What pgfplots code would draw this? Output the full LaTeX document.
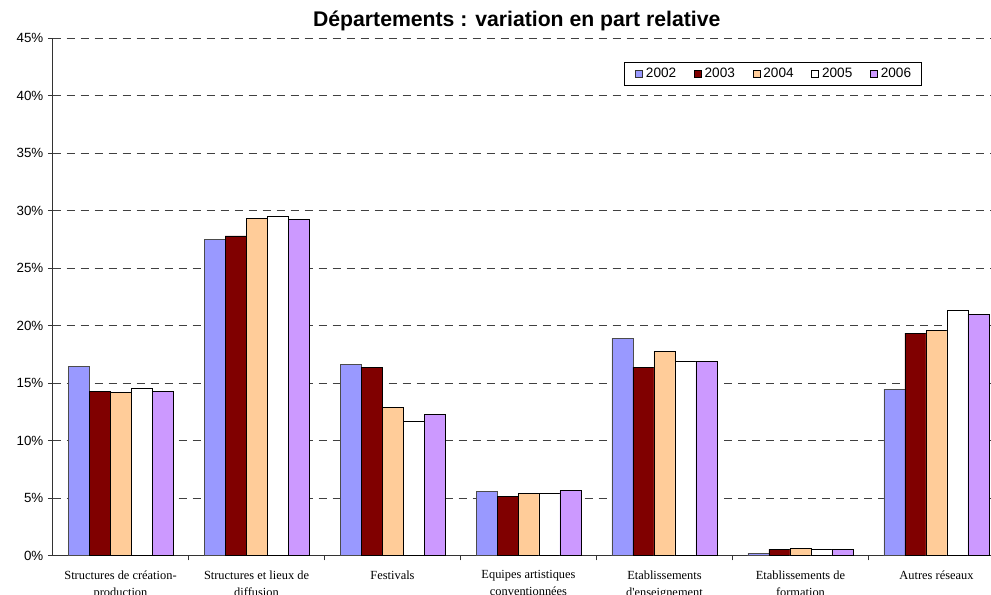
\documentclass[border=0pt]{standalone}
\usepackage{fontspec}
\setmainfont{Liberation Sans}
\newfontfamily\timesfont{Liberation Serif}
\usepackage{pgfplots}
\pgfplotsset{compat=1.18}
\definecolor{cA}{HTML}{9999FF}
\definecolor{cB}{HTML}{800000}
\definecolor{cC}{HTML}{FFCC99}
\definecolor{cD}{HTML}{FFFFFF}
\definecolor{cE}{HTML}{CC99FF}
\begin{document}
\begin{tikzpicture}
\useasboundingbox (-39.4pt,-29.25pt) rectangle (703.9pt,417pt);
\clip (-39.4pt,-29.25pt) rectangle (703.9pt,417pt);
\begin{axis}[
  at={(0pt,0pt)}, anchor=south west,
  scale only axis, width=714pt, height=388.5pt,
  xmin=-0.5, xmax=6.5, ymin=0, ymax=45,
  ybar=0pt, bar width=15.75pt,
  axis x line*=bottom, axis y line*=left,
  axis line style={black!80, line width=0.8pt},
  tick align=outside,
  major tick length=3.4pt,
  tick style={black!80, line width=0.7pt},
  xtick={0.5,1.5,...,5.5}, xticklabels={},
  extra x ticks={0,1,2,3,4,5,6},
  extra x tick labels={{Structures de création-\\production},{Structures et lieux de\\diffusion},{Festivals},{Equipes artistiques\\conventionnées},{Etablissements\\d'enseignement},{Etablissements de\\formation},{Autres réseaux}},
  extra x tick style={major tick length=0pt},
  x tick label style={font=\timesfont\fontsize{9.3}{12.75}\selectfont, align=center, yshift=-7.5pt},
  ytick={0,5,...,45},
  yticklabel={\pgfmathprintnumber{\tick}\%},
  y tick label style={font=\fontsize{10}{12}\selectfont},
  /pgf/number format/assume math mode=true,
  ymajorgrids,
  grid style={dash pattern=on 6pt off 4.5pt, color=black!75, line width=0.7pt},
  legend columns=5,
  legend style={at={(axis cs:3.702,42.94)}, anchor=north west, draw=black, line width=0.7pt,
    font=\fontsize{10.2}{12}\selectfont,
    nodes={inner sep=0pt},
    inner xsep=8pt, inner ysep=4.5pt,
    /tikz/every odd column/.append style={column sep=2.4pt},
    /tikz/every even column/.append style={column sep=13.2pt}},
]
\addplot[fill=cA, draw=black!70, line width=0.7pt, legend image code/.code={\draw[fill=cA,draw=black!80,line width=0.5pt] (0pt,-2.5pt) rectangle (5.25pt,2.5pt);}]
 coordinates {(0,16.5) (1,27.5) (2,16.6) (3,5.57) (4,18.9) (5,0.23) (6,14.5)};
\addplot[fill=cB, draw=black, line width=0.7pt, legend image code/.code={\draw[fill=cB,draw=black,line width=0.5pt] (0pt,-2.5pt) rectangle (5.25pt,2.5pt);}]
 coordinates {(0,14.3) (1,27.8) (2,16.35) (3,5.13) (4,16.4) (5,0.58) (6,19.37)};
\addplot[fill=cC, draw=black, line width=0.7pt, legend image code/.code={\draw[fill=cC,draw=black,line width=0.5pt] (0pt,-2.5pt) rectangle (5.25pt,2.5pt);}]
 coordinates {(0,14.2) (1,29.35) (2,12.9) (3,5.39) (4,17.8) (5,0.67) (6,19.55)};
\addplot[fill=cD, draw=black, line width=0.7pt, legend image code/.code={\draw[fill=cD,draw=black,line width=0.5pt] (0pt,-2.5pt) rectangle (5.25pt,2.5pt);}]
 coordinates {(0,14.55) (1,29.5) (2,11.65) (3,5.39) (4,16.9) (5,0.58) (6,21.3)};
\addplot[fill=cE, draw=black, line width=0.7pt, legend image code/.code={\draw[fill=cE,draw=black,line width=0.5pt] (0pt,-2.5pt) rectangle (5.25pt,2.5pt);}]
 coordinates {(0,14.3) (1,29.2) (2,12.3) (3,5.68) (4,16.9) (5,0.58) (6,21.0)};
\legend{2002,2003,2004,2005,2006}
\end{axis}
\node[anchor=base, font=\bfseries\fontsize{15.9}{18}\selectfont] at (348.2pt,397pt) {Départements : variation en part relative};
\end{tikzpicture}
\end{document}
